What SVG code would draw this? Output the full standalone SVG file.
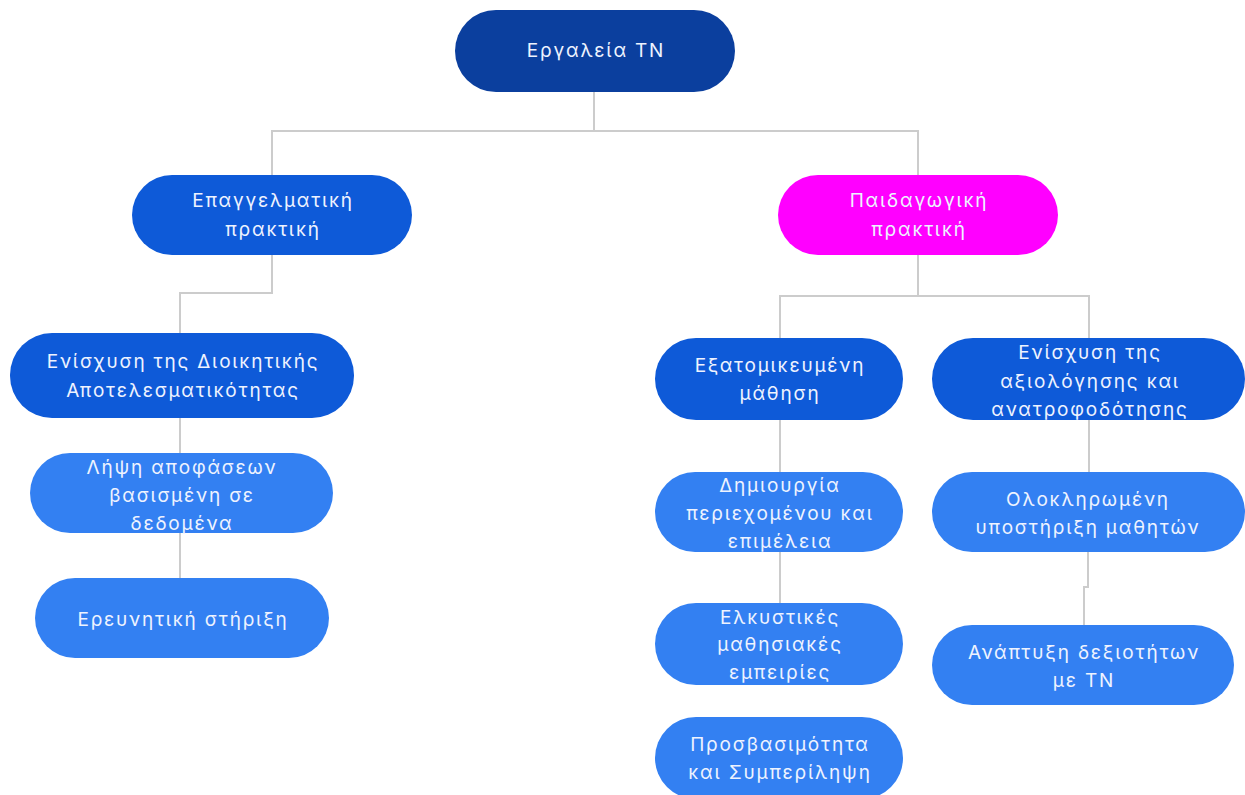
<svg xmlns="http://www.w3.org/2000/svg" width="1245" height="795" viewBox="0 0 1245 795">
<style>
.c{fill:none;stroke:#cccccc;stroke-width:2}
.t{font-family:Inter,"Noto Sans","DejaVu Sans",sans-serif;font-size:19px;letter-spacing:1.8px;fill:#eef3ff;text-anchor:middle}
.r{fill:#0b3f9e}
.b{fill:#0e5ad8}
.m{fill:#ff00ff}
.l{fill:#3380f2}
</style>
<rect width="1245" height="795" fill="#ffffff"/>
<g id="connectors">
<path class="c" d="M594 92V131H272V175M594 131H918V175"/>
<path class="c" d="M272 255V293H180V333"/>
<path class="c" d="M180 418V578"/>
<path class="c" d="M918 255V296H780V338M918 296H1089V338"/>
<path class="c" d="M780 420V603"/>
<path class="c" d="M1089 420V472"/>
<path class="c" d="M1088 552V587H1084V625"/>
</g>
<g id="root"><rect class="r" x="455" y="10" width="280" height="82" rx="41"/><text class="t" x="596" y="57">Εργαλεία ΤΝ</text></g>
<g id="epaggelmatiki"><rect class="b" x="132" y="175" width="280" height="80" rx="40"/><text class="t" x="273" y="207">Επαγγελματική</text><text class="t" x="273" y="236">πρακτική</text></g>
<g id="paidagogiki"><rect class="m" x="778" y="175" width="280" height="80" rx="40"/><text class="t" x="919" y="207">Παιδαγωγική</text><text class="t" x="919" y="236">πρακτική</text></g>
<g id="dioikitiki"><rect class="b" x="10" y="333" width="344" height="85" rx="42"/><text class="t" x="183" y="368">Ενίσχυση της Διοικητικής</text><text class="t" x="183" y="397">Αποτελεσματικότητας</text></g>
<g id="lipsi"><rect class="l" x="30" y="453" width="303" height="80" rx="40"/><text class="t" x="182" y="474">Λήψη αποφάσεων</text><text class="t" x="182" y="502">βασισμένη σε</text><text class="t" x="182" y="530">δεδομένα</text></g>
<g id="ereunitiki"><rect class="l" x="35" y="578" width="294" height="80" rx="40"/><text class="t" x="183" y="626">Ερευνητική στήριξη</text></g>
<g id="exatomikeumeni"><rect class="b" x="655" y="338" width="248" height="82" rx="41"/><text class="t" x="780" y="372">Εξατομικευμένη</text><text class="t" x="780" y="400">μάθηση</text></g>
<g id="axiologisi"><rect class="b" x="932" y="338" width="313" height="82" rx="41"/><text class="t" x="1090" y="359">Ενίσχυση της</text><text class="t" x="1090" y="388">αξιολόγησης και</text><text class="t" x="1090" y="416">ανατροφοδότησης</text></g>
<g id="dimiourgia"><rect class="l" x="655" y="472" width="248" height="80" rx="40"/><text class="t" x="780" y="492">Δημιουργία</text><text class="t" x="780" y="520">περιεχομένου και</text><text class="t" x="780" y="548">επιμέλεια</text></g>
<g id="olokliromeni"><rect class="l" x="932" y="472" width="313" height="80" rx="40"/><text class="t" x="1088" y="506">Ολοκληρωμένη</text><text class="t" x="1088" y="534">υποστήριξη μαθητών</text></g>
<g id="elkystikes"><rect class="l" x="655" y="603" width="248" height="82" rx="41"/><text class="t" x="780" y="624">Ελκυστικές</text><text class="t" x="780" y="651">μαθησιακές</text><text class="t" x="780" y="679">εμπειρίες</text></g>
<g id="anaptyxi"><rect class="l" x="932" y="625" width="302" height="80" rx="40"/><text class="t" x="1084" y="659">Ανάπτυξη δεξιοτήτων</text><text class="t" x="1084" y="687">με ΤΝ</text></g>
<g id="prosvasimotita"><rect class="l" x="655" y="717" width="248" height="82" rx="41"/><text class="t" x="780" y="751">Προσβασιμότητα</text><text class="t" x="780" y="779">και Συμπερίληψη</text></g>
</svg>
